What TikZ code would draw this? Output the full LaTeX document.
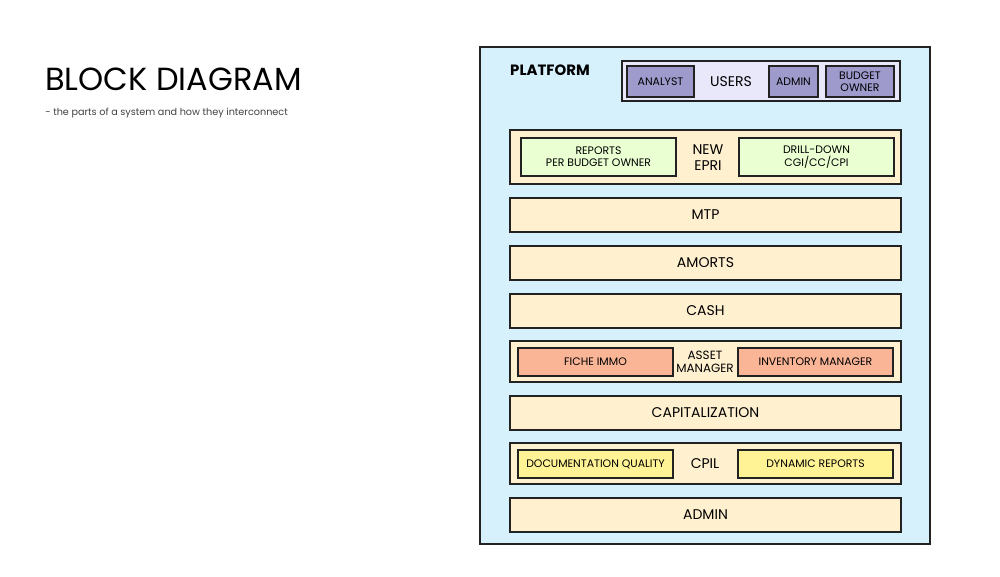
\documentclass[tikz,border=0pt]{standalone}
\usepackage{fontspec}
\setmainfont{Poppins}
\usepackage{xcolor}
\definecolor{skyfill}{RGB}{214,241,252}
\definecolor{lavfill}{RGB}{233,231,250}
\definecolor{rolefill}{RGB}{158,154,204}
\definecolor{creamfill}{RGB}{255,240,208}
\definecolor{mintfill}{RGB}{234,255,210}
\definecolor{salmonfill}{RGB}{250,180,150}
\definecolor{lemonfill}{RGB}{255,243,150}
\definecolor{edge}{RGB}{34,34,34}

\begin{document}
\begin{tikzpicture}[x=0.02cm, y=-0.02cm,
    layer/.style={draw=edge, line width=0.9pt, fill=creamfill, minimum width=7.82cm, inner sep=0pt, font=\fontsize{8}{9}\selectfont},
    part/.style={draw=edge, line width=0.9pt, minimum width=3.1cm, inner sep=0pt, align=center, font=\fontsize{6.2}{7}\selectfont},
    role/.style={draw=edge, line width=0.9pt, fill=rolefill, inner sep=0pt, align=center, minimum height=0.62cm, font=\fontsize{6.2}{7}\selectfont}]
    \useasboundingbox (0,0) rectangle (1000,577);
    % title
    \node[anchor=west, inner sep=0pt, font=\fontsize{18.2}{20}\selectfont] (title) at (45,79.5) {BLOCK DIAGRAM};
    \node[anchor=west, inner sep=0pt, font=\fontsize{5.5}{6.5}\selectfont, text=black!75] (subtitle) at (45,113) {- the parts of a system and how they interconnect};
    % platform
    \node[draw=edge, line width=1pt, fill=skyfill, minimum width=9cm, minimum height=9.94cm, inner sep=0pt] (platform) at (705,295.5) {};
    \node[font=\fontsize{8.5}{9}\selectfont\bfseries] (platformlabel) at (550,70.5) {PLATFORM};
    % users
    \node[draw=edge, line width=0.9pt, fill=lavfill, minimum width=5.56cm, minimum height=0.8cm, inner sep=0pt] (users) at (761,81) {};
    \node[font=\fontsize{8}{9}\selectfont] (userslabel) at (731,82) {USERS};
    \node[role, minimum width=1.34cm] (analyst) at (660.5,81.5) {ANALYST};
    \node[role, minimum width=0.98cm] (admin) at (793.5,81.5) {ADMIN};
    \node[role, minimum width=1.36cm] (budget) at (860,81.5) {BUDGET\\OWNER};
    % layers
    \node[layer, minimum height=1.08cm] (epri) at (705.5,157) {};
    \node[align=center, font=\fontsize{8}{9}\selectfont] (epriLabel) at (708,157.5) {NEW\\EPRI};
    \node[part, fill=mintfill, minimum height=0.76cm] (reports) at (598.5,157) {REPORTS\\PER BUDGET OWNER};
    \node[part, fill=mintfill, minimum height=0.76cm] (drill) at (816.5,157) {DRILL-DOWN\\CGI/CC/CPI};
    \node[layer, minimum height=0.68cm] (mtp) at (705.5,215) {MTP};
    \node[layer, minimum height=0.68cm] (amorts) at (705.5,263) {AMORTS};
    \node[layer, minimum height=0.68cm] (cash) at (705.5,311) {CASH};
    \node[layer, minimum height=0.82cm] (asset) at (705.5,361.5) {};
    \node[align=center, font=\fontsize{6.8}{7.5}\selectfont] (assetLabel) at (705,361.5) {ASSET\\MANAGER};
    \node[part, fill=salmonfill, minimum height=0.56cm] (fiche) at (595.5,362) {FICHE IMMO};
    \node[part, fill=salmonfill, minimum height=0.56cm] (inventory) at (815.5,362) {INVENTORY MANAGER};
    \node[layer, minimum height=0.68cm] (capital) at (705.5,413) {CAPITALIZATION};
    \node[layer, minimum height=0.82cm] (cpil) at (705.5,463.5) {};
    \node[font=\fontsize{8}{9}\selectfont] (cpilLabel) at (705,464) {CPIL};
    \node[part, fill=lemonfill, minimum height=0.56cm] (docq) at (595.5,464) {DOCUMENTATION QUALITY};
    \node[part, fill=lemonfill, minimum height=0.56cm] (dynamic) at (815.5,464) {DYNAMIC REPORTS};
    \node[layer, minimum height=0.68cm] (adminlayer) at (705.5,515) {ADMIN};
\end{tikzpicture}
\end{document}
